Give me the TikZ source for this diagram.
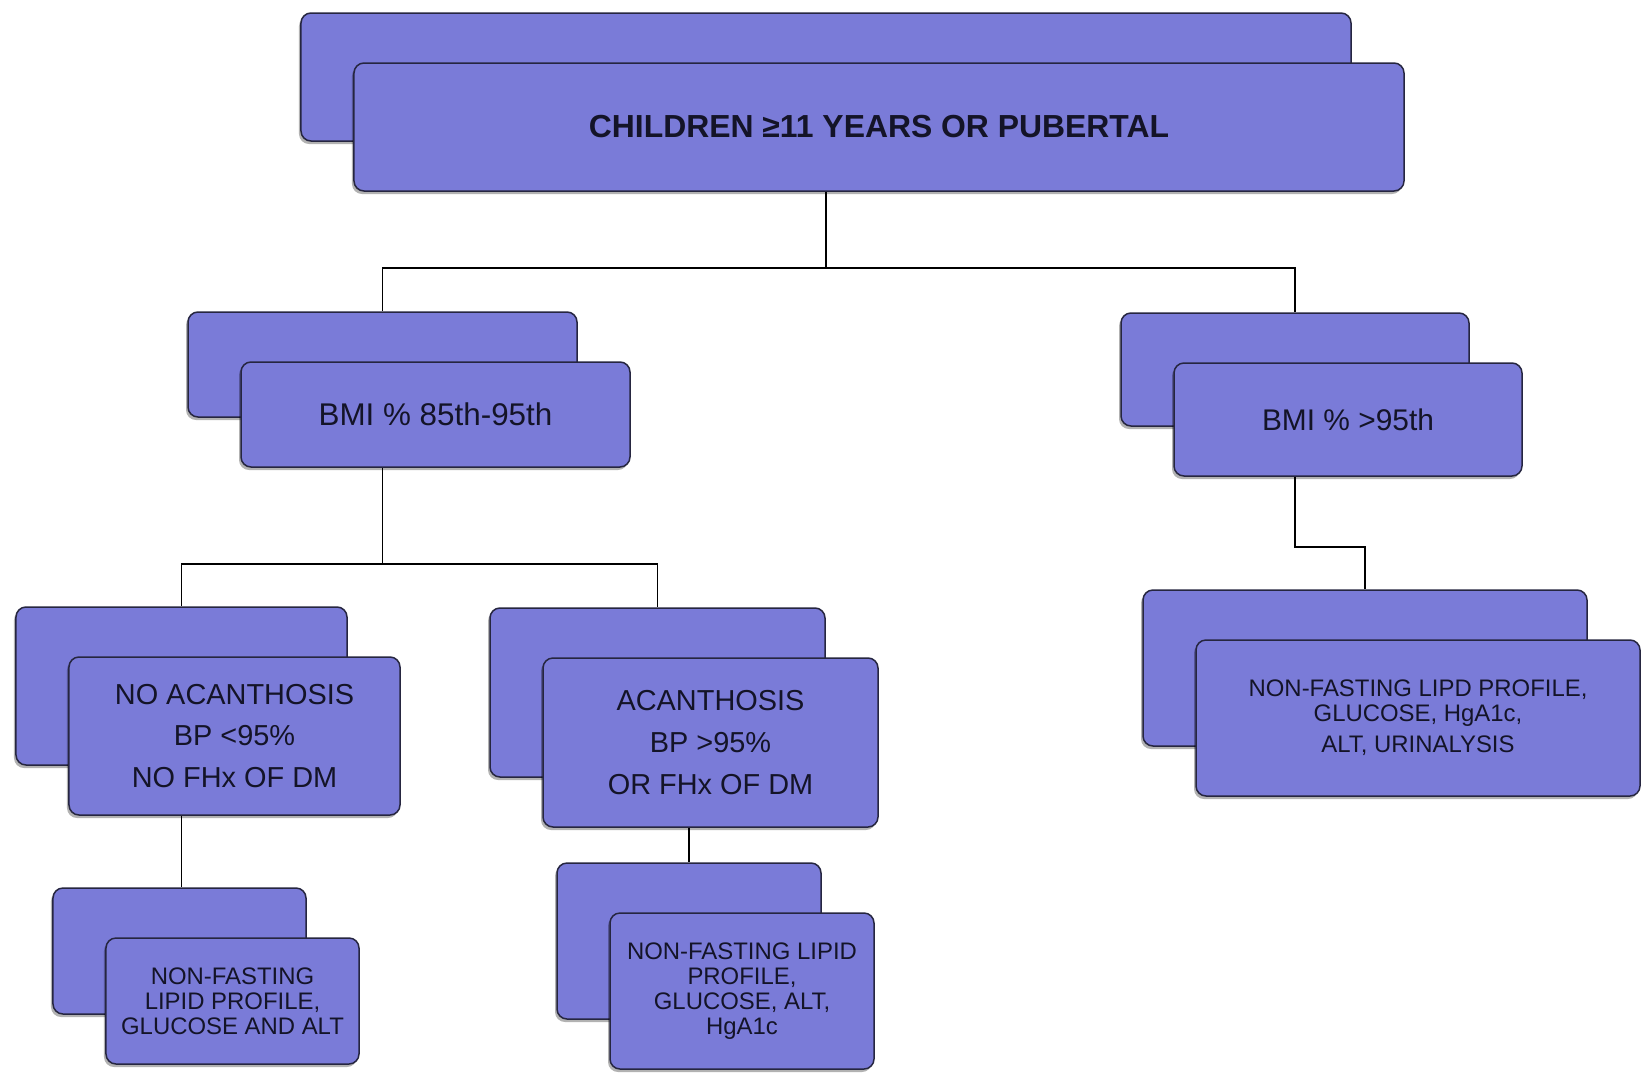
\documentclass[tikz,border=0pt]{standalone}
\usepackage{fontspec}
\setmainfont{Liberation Sans}
\usetikzlibrary{shadows,calc}
\definecolor{boxfill}{RGB}{122,123,216}
\definecolor{boxline}{RGB}{38,38,64}
\definecolor{txt}{RGB}{20,20,40}
\tikzset{
  box/.style={draw=boxline, line width=1.5bp, fill=boxfill, rounded corners=10bp, inner sep=0pt,
    drop shadow={shadow xshift=-2bp, shadow yshift=-3bp, opacity=0.3, fill=black}},
  conn/.style={draw=black, line width=1.5bp},
  bigtxt/.style={font=\fontsize{32}{36}\selectfont\bfseries},
  midtxt/.style={font=\fontsize{31.5}{36}\selectfont},
  midtxtb/.style={font=\fontsize{30}{36}\selectfont},
  threetxt/.style={font=\fontsize{29}{42}\selectfont},
  smalltxt/.style={font=\fontsize{24}{25}\selectfont},
}
\newcommand{\stackbox}[7]{%
  \node[box, minimum width=#4bp, minimum height=#5bp] (#1B) at (#2,#3) {};
  \node[box, minimum width=#4bp, minimum height=#5bp, align=center, text=txt, #6] (#1) at ($(#1B)+(53,50)$) {#7};
}
\begin{document}
\begin{tikzpicture}[x=1bp, y=-1bp]
\useasboundingbox (0,0) rectangle (1642,1074);
\fill[white] (0,0) rectangle (1642,1074);

\stackbox{top}{826}{77}{1050}{128}{bigtxt}{CHILDREN ≥11 YEARS OR PUBERTAL}
\stackbox{bmiL}{382.5}{364.5}{389}{105}{midtxt}{BMI \% 85th-95th}
\stackbox{bmiR}{1295}{369.5}{348}{113}{midtxtb}{BMI \% >95th}
\stackbox{noA}{181.5}{686}{331}{158}{threetxt}{NO ACANTHOSIS\\BP <95\%\\NO FHx OF DM}
\stackbox{acA}{657.5}{692.5}{335}{169}{threetxt}{ACANTHOSIS\\BP >95\%\\OR FHx OF DM}
\stackbox{botL}{179.5}{951}{253}{126}{smalltxt}{NON-FASTING\\LIPID PROFILE,\\GLUCOSE AND ALT}
\stackbox{botM}{689}{941}{264}{156}{smalltxt}{NON-FASTING LIPID\\PROFILE,\\GLUCOSE, ALT,\\HgA1c}
\stackbox{botR}{1365}{668}{444}{156}{smalltxt}{NON-FASTING LIPD PROFILE,\\GLUCOSE, HgA1c,\\[6bp]ALT, URINALYSIS}

\draw[conn] (topB |- top.south) -- ++(0,76) -| (bmiLB.north);
\draw[conn] (topB |- top.south) -- ++(0,76) -| (bmiRB.north);
\draw[conn] (bmiLB |- bmiL.south) -- ++(0,96) -| (noAB.north);
\draw[conn] (bmiLB |- bmiL.south) -- ++(0,96) -| (acAB.north);
\draw[conn] (noAB |- noA.south) -- (noAB |- botLB.north);
\draw[conn] (botMB |- acA.south) -- (botMB.north);
\draw[conn] (bmiRB |- bmiR.south) -- ++(0,70) -| (botRB.north);
\end{tikzpicture}
\end{document}
